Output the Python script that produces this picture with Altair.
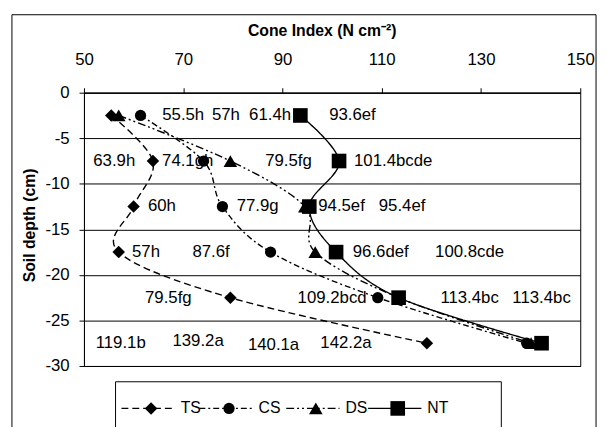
import altair as alt
import pandas as pd

FONT = "Liberation Sans"

# ---- data ----
depths = [-2.5, -7.5, -12.5, -17.5, -22.5, -27.5]
series = ["TS", "CS", "DS", "NT"]
ts_ci = [55.5, 63.9, 60.0, 57.0, 79.5, 119.1]
cs_ci = [61.4, 74.1, 77.9, 87.6, 109.2, 139.2]
ds_ci = [57.0, 79.5, 94.5, 96.6, 113.4, 140.1]
nt_ci = [93.6, 101.4, 95.4, 100.8, 113.4, 142.2]

x_ticks = [50, 70, 90, 110, 130, 150]
y_ticks = [0, -5, -10, -15, -20, -25, -30]

label_text = ["55.5h", "57h", "61.4h", "93.6ef",
              "63.9h", "74.1gh", "79.5fg", "101.4bcde",
              "60h", "77.9g", "94.5ef", "95.4ef",
              "57h", "87.6f", "96.6def", "100.8cde",
              "79.5fg", "109.2bcd", "113.4bc", "113.4bc",
              "119.1b", "139.2a", "140.1a", "142.2a"]
label_ci = [70.0, 78.6, 87.5, 104.1,
            56.1, 70.9, 91.2, 112.3,
            65.7, 85.0, 101.9, 114.1,
            62.5, 75.6, 109.8, 127.7,
            67.0, 100.0, 127.7, 142.2,
            57.4, 73.0, 88.2, 102.8]
label_depth = [-2.5] * 4 + [-7.5] * 4 + [-12.5] * 4 + [-17.5] * 4 + [-22.5] * 4 + \
              [-27.5, -27.3, -27.7, -27.5]

values = {"TS": ts_ci, "CS": cs_ci, "DS": ds_ci, "NT": nt_ci}

# ---- styles ----
dashes = {"TS": [7, 4], "CS": [6, 3, 2, 3], "DS": [8, 3, 2, 3, 2, 3], "NT": [1, 0]}
shapes = {"TS": "diamond", "CS": "circle", "DS": "triangle-up", "NT": "square"}
msizes = {"TS": 160, "CS": 130, "DS": 190, "NT": 220}
legend_x0 = [38, 117, 205, 288]   # legend entry starts (px, layout)

rows = []
for s in series:
    for i, (d, v) in enumerate(zip(depths, values[s])):
        rows.append({"series": s, "depth": d, "ci": v, "ord": i})
df = pd.DataFrame(rows)
labels_df = pd.DataFrame({"text": label_text, "ci": label_ci, "depth": label_depth})

xscale = alt.Scale(domain=[50, 150], nice=False, zero=False)
yscale = alt.Scale(domain=[-30, 0], nice=False, zero=False)

x_enc = alt.X("ci:Q", scale=xscale, axis=alt.Axis(
    orient="top", values=x_ticks, grid=False, tickSize=5, tickColor="black",
    domainColor="black", labelFont=FONT, labelFontSize=17, labelColor="black",
    labelPadding=20, labelFlush=False, title="Cone Index (N cm⁻²)",
    titleFont=FONT, titleFontSize=16, titleFontWeight="bold", titleColor="black",
    titlePadding=12, titleX=241))
y_enc = alt.Y("depth:Q", scale=yscale, axis=alt.Axis(
    values=y_ticks, grid=True, gridColor="black", gridWidth=1, tickSize=5,
    tickColor="black", domainColor="black", labelFont=FONT, labelFontSize=17,
    labelColor="black", labelPadding=10, labelFlush=False,
    labelExpr="datum.value < 0 ? '-' + abs(datum.value) : '' + datum.value",
    title="Soil depth (cm)",
    titleFont=FONT, titleFontSize=16, titleFontWeight="bold", titleColor="black",
    titleX=-55, titleY=134, titleBaseline="middle"))

base = alt.Chart(df)
layers = []

# axes carrier
layers.append(base.mark_point(opacity=0).encode(x=x_enc, y=y_enc))

# labels
layers.append(alt.Chart(labels_df).mark_text(
    font=FONT, fontSize=17, color="black", align="center", baseline="middle"
).encode(x=alt.X("ci:Q", scale=xscale), y=alt.Y("depth:Q", scale=yscale), text="text:N"))

for s in series:
    sub = base.transform_filter(alt.datum.series == s)
    layers.append(sub.mark_line(color="black", strokeWidth=1.4, interpolate="cardinal",
                                strokeDash=dashes[s]).encode(
        x=alt.X("ci:Q", scale=xscale), y=alt.Y("depth:Q", scale=yscale), order="ord:Q"))
for s in series:
    sub = base.transform_filter(alt.datum.series == s)
    layers.append(sub.mark_point(shape=shapes[s], size=msizes[s], filled=True,
                                 color="black", opacity=1).encode(
        x=alt.X("ci:Q", scale=xscale), y=alt.Y("depth:Q", scale=yscale)))

one = alt.Chart(pd.DataFrame({"a": [0]}))
# outer chart border (cut at bottom)
layers.append(one.mark_rule(color="black", strokeWidth=1).encode(
    x=alt.value(-73), x2=alt.value(519), y=alt.value(-79)))
layers.append(one.mark_rule(color="black", strokeWidth=1).encode(
    x=alt.value(-73), y=alt.value(-79), y2=alt.value(420)))
layers.append(one.mark_rule(color="black", strokeWidth=1).encode(
    x=alt.value(519), y=alt.value(-79), y2=alt.value(420)))

# legend box (cut at bottom)
LY = 320
layers.append(one.mark_rule(color="black", strokeWidth=1).encode(
    x=alt.value(32), x2=alt.value(423), y=alt.value(293)))
layers.append(one.mark_rule(color="black", strokeWidth=1).encode(
    x=alt.value(32), y=alt.value(293), y2=alt.value(420)))
layers.append(one.mark_rule(color="black", strokeWidth=1).encode(
    x=alt.value(423), y=alt.value(293), y2=alt.value(420)))

for i, s in enumerate(series):
    x0 = legend_x0[i]
    layers.append(one.mark_rule(color="black", strokeWidth=1.4, strokeDash=dashes[s]).encode(
        x=alt.value(x0), x2=alt.value(x0 + 54), y=alt.value(LY)))
    layers.append(one.mark_point(shape=shapes[s], size=msizes[s], filled=True,
                                 color="black", opacity=1).encode(
        x=alt.value(x0 + 30), y=alt.value(LY)))
    layers.append(one.mark_text(font=FONT, fontSize=16, color="black", align="left",
                                baseline="middle", text=s).encode(
        x=alt.value(x0 + 60), y=alt.value(LY)))

chart = alt.layer(*layers).properties(
    width=503, height=277,
    autosize=alt.AutoSizeParams(type="none"),
    padding={"left": 77, "top": 83, "right": 19, "bottom": 59},
    background="white",
).configure_view(stroke="black", strokeWidth=1)

chart.save("out.html", embed_options={"renderer": "svg", "actions": False})
